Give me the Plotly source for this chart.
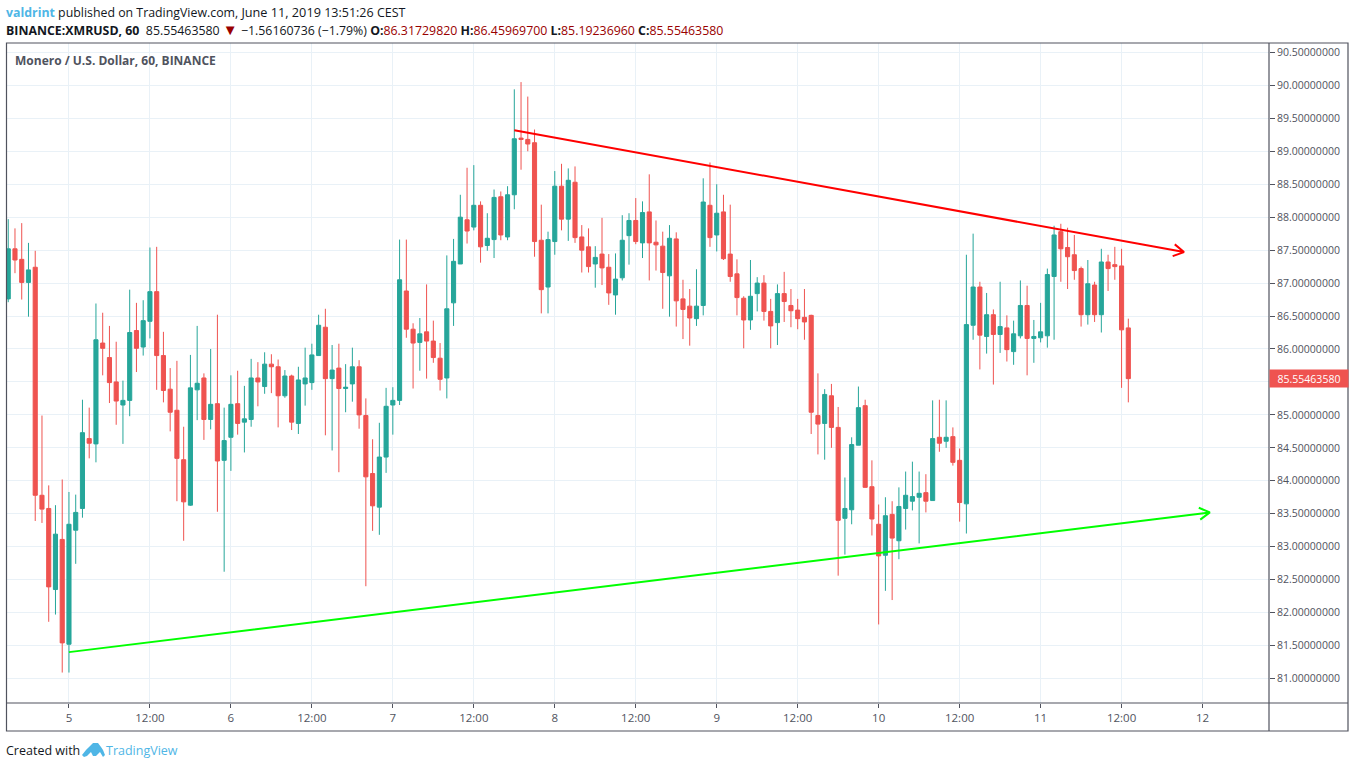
import math
import pandas as pd
import plotly.graph_objects as go

# hourly XMR/USD candles, first one is June 4 15:00
first_candle = "2019-06-04 15:00"

opens = [86.76, 87.52, 87.36, 87.01, 87.24, 83.78, 83.58, 82.35, 83.11, 81.52,
         83.25, 83.58, 84.64, 84.56, 86.09, 85.87, 85.50, 85.15, 85.22, 86.28,
         86.03, 86.42, 86.87, 85.90, 85.39, 85.07, 84.32, 83.63, 85.38, 85.56,
         84.93, 85.17, 84.31, 84.66, 85.17, 84.89, 84.93, 85.56, 85.43, 85.77,
         85.73, 85.29, 85.59, 84.87, 85.47, 85.49, 85.90, 86.33, 85.55, 85.71,
         85.40, 85.47, 85.73, 84.99, 84.11, 83.60, 84.36, 85.15, 85.22, 86.88,
         86.30, 86.10, 86.26, 86.12, 85.86, 85.56, 86.70, 87.29, 87.96, 87.85,
         88.18, 87.57, 87.66, 88.31, 87.70, 88.34, 89.20, 89.18, 89.13, 87.65,
         86.94, 87.63, 88.47, 87.97, 88.53, 87.70, 87.55, 87.29, 87.44, 87.24,
         86.82, 87.08, 87.72, 87.95, 87.61, 88.08, 87.62, 87.56, 87.11, 87.67,
         86.76, 86.65, 86.46, 86.66, 88.18, 87.73, 88.08, 87.44, 87.14, 86.77,
         86.44, 86.84, 87.00, 86.57, 86.40, 86.84, 86.66, 86.59, 86.48, 86.51,
         84.99, 84.87, 85.29, 84.81, 83.43, 83.56, 84.54, 85.14, 83.91, 83.34,
         82.87, 83.49, 83.09, 83.58, 83.69, 83.75, 83.82, 83.70, 84.66, 84.60,
         84.67, 84.31, 83.65, 86.36, 86.94, 86.19, 86.52, 86.22, 86.32, 85.96,
         86.20, 86.66, 86.16, 86.17, 86.20, 87.10, 87.78, 87.54, 87.43, 87.22,
         86.52, 86.97, 86.52, 87.32, 87.28, 87.26, 86.32]
highs = [87.97, 87.83, 87.91, 87.61, 87.49, 84.99, 83.93, 83.63, 84.02, 83.83,
         83.79, 85.23, 85.11, 86.69, 86.55, 86.35, 86.11, 85.52, 86.90, 86.70,
         86.74, 87.54, 87.55, 86.26, 85.71, 85.82, 84.82, 85.91, 86.35, 85.63,
         86.00, 86.52, 85.11, 85.60, 85.67, 85.44, 85.85, 85.80, 85.95, 85.92,
         85.84, 85.68, 85.61, 85.73, 86.02, 86.08, 86.52, 86.61, 86.06, 86.08,
         85.77, 86.02, 85.83, 85.25, 84.63, 84.88, 85.41, 85.42, 87.66, 87.66,
         86.39, 86.47, 86.98, 86.43, 86.09, 87.42, 87.67, 88.34, 88.75, 88.79,
         88.24, 88.06, 88.42, 88.39, 88.47, 89.94, 90.05, 89.83, 89.33, 88.19,
         87.78, 88.70, 88.81, 88.74, 88.77, 87.88, 87.83, 87.56, 87.99, 87.44,
         87.45, 88.03, 88.06, 88.29, 88.24, 88.65, 87.95, 87.78, 87.88, 87.77,
         87.05, 86.91, 87.21, 88.59, 88.83, 88.50, 88.34, 88.19, 87.36, 86.80,
         87.35, 87.09, 87.12, 86.76, 86.98, 87.17, 86.91, 86.76, 86.91, 86.52,
         85.63, 85.39, 85.47, 85.12, 84.05, 84.66, 85.43, 85.23, 84.31, 83.64,
         83.75, 83.69, 83.90, 84.14, 84.29, 84.14, 84.10, 85.22, 85.23, 85.22,
         84.81, 84.49, 87.43, 87.75, 87.02, 86.85, 86.60, 87.02, 86.51, 86.43,
         87.04, 86.96, 86.44, 86.70, 87.22, 87.87, 87.90, 87.84, 87.73, 87.25,
         87.35, 87.02, 87.52, 87.43, 87.55, 87.52, 86.46]
lows = [86.71, 87.15, 86.75, 86.49, 83.39, 83.36, 81.86, 81.97, 81.09, 81.09,
        82.74, 83.44, 84.34, 84.28, 85.60, 85.18, 84.85, 84.56, 84.98, 85.65,
        85.90, 86.16, 85.38, 85.19, 84.75, 83.69, 83.09, 83.62, 84.92, 84.62,
        84.78, 83.53, 82.62, 84.15, 84.70, 84.43, 84.82, 85.13, 85.32, 85.33,
        84.81, 85.26, 84.77, 84.71, 85.14, 85.38, 85.90, 84.69, 84.46, 84.13,
        85.04, 85.20, 84.79, 82.40, 83.24, 83.18, 84.12, 84.70, 85.15, 86.17,
        85.40, 85.67, 85.55, 85.79, 85.37, 85.25, 86.35, 87.29, 87.60, 87.80,
        87.31, 87.49, 87.38, 87.65, 87.65, 88.12, 88.72, 89.00, 87.40, 86.54,
        86.54, 87.43, 87.80, 87.64, 87.61, 87.16, 87.16, 86.93, 86.97, 86.67,
        86.52, 87.04, 87.28, 87.59, 87.38, 87.04, 87.19, 86.61, 86.49, 86.34,
        86.15, 86.05, 86.35, 86.51, 87.55, 87.48, 87.35, 87.02, 86.51, 86.01,
        86.29, 86.57, 86.43, 86.01, 86.06, 86.41, 86.33, 86.30, 86.14, 84.71,
        84.40, 84.32, 84.50, 82.56, 82.88, 83.34, 84.54, 83.90, 83.17, 81.82,
        82.33, 82.19, 82.81, 83.26, 83.55, 83.05, 83.52, 83.70, 84.44, 84.50,
        84.23, 83.38, 83.20, 86.14, 85.69, 85.93, 85.46, 85.94, 85.81, 85.76,
        86.16, 85.60, 85.79, 86.10, 86.02, 86.14, 87.02, 86.91, 87.05, 86.34,
        86.37, 86.41, 86.25, 86.88, 87.05, 85.41, 85.19]
closes = [87.52, 87.35, 87.01, 87.20, 83.78, 83.57, 82.39, 83.19, 81.54, 83.34,
          83.52, 84.73, 84.57, 86.14, 86.01, 85.49, 85.21, 85.22, 86.25, 86.01,
          86.43, 86.87, 85.90, 85.37, 85.04, 84.34, 83.68, 85.41, 85.48, 84.93,
          85.16, 84.30, 84.61, 85.16, 84.87, 84.94, 85.56, 85.50, 85.77, 85.73,
          85.29, 85.59, 84.89, 85.53, 85.56, 85.91, 86.36, 85.55, 85.68, 85.40,
          85.42, 85.73, 85.00, 84.06, 83.62, 84.36, 85.13, 85.22, 87.05, 86.30,
          86.09, 86.23, 86.12, 85.87, 85.54, 86.61, 87.33, 88.00, 87.79, 88.18,
          87.55, 87.68, 88.30, 87.73, 88.34, 89.19, 89.18, 89.11, 87.63, 86.90,
          87.66, 88.47, 87.97, 88.56, 87.69, 87.50, 87.25, 87.39, 87.23, 86.85,
          87.06, 87.65, 87.95, 87.63, 88.07, 87.61, 87.58, 87.16, 87.68, 86.73,
          86.60, 86.47, 86.65, 88.23, 87.69, 88.06, 87.37, 87.10, 86.78, 86.44,
          86.80, 87.00, 86.57, 86.35, 86.84, 86.72, 86.58, 86.46, 86.41, 85.04,
          84.86, 85.31, 84.81, 83.40, 83.58, 84.55, 85.11, 83.90, 83.42, 82.86,
          83.47, 83.13, 83.61, 83.78, 83.76, 83.81, 83.69, 84.64, 84.57, 84.66,
          84.28, 83.67, 86.37, 86.94, 86.21, 86.52, 86.22, 86.34, 85.99, 86.23,
          86.66, 86.16, 86.19, 86.26, 87.13, 87.73, 87.52, 87.40, 87.19, 86.52,
          86.99, 86.52, 87.32, 87.22, 87.25, 86.29, 85.55]

tick_dates = ["2019-06-05 00:00", "2019-06-05 12:00", "2019-06-06 00:00", "2019-06-06 12:00",
              "2019-06-07 00:00", "2019-06-07 12:00", "2019-06-08 00:00", "2019-06-08 12:00",
              "2019-06-09 00:00", "2019-06-09 12:00", "2019-06-10 00:00", "2019-06-10 12:00",
              "2019-06-11 00:00", "2019-06-11 12:00", "2019-06-12 00:00"]
tick_labels = ["5", "12:00", "6", "12:00", "7", "12:00", "8", "12:00",
               "9", "12:00", "10", "12:00", "11", "12:00", "12"]
price_ticks = [81.0, 81.5, 82.0, 82.5, 83.0, 83.5, 84.0, 84.5, 85.0, 85.5,
               86.0, 86.5, 87.0, 87.5, 88.0, 88.5, 89.0, 89.5, 90.0, 90.5]

# trend lines as drawn on the chart
red_dates = ["2019-06-07 18:00", "2019-06-11 21:15"]
red_prices = [89.32, 87.47]
green_dates = ["2019-06-05 00:00", "2019-06-12 01:05"]
green_prices = [81.40, 83.52]

last_price = 85.55463580
x_range = ["2019-06-04 14:49", "2019-06-12 09:51"]
y_range = [80.628, 90.643]

UP = "#26a69a"
DOWN = "#ef5350"
GRID = "#e9f1f7"
FRAME = "#50535e"
BLUE = "#4fb6e6"
TEXT_FONT = "Open Sans"

W, H = 1355, 768
LEFT, RIGHT, TOP, BOTTOM = 7, 1269, 43, 703
PX_PER_HOUR = 6.75
PX_PER_USD = 65.9


def px(x, y):
    # page pixels to paper coordinates
    return (x - LEFT) / (RIGHT - LEFT), (BOTTOM - y) / (BOTTOM - TOP)


def arrow_xy(dates, prices, size=12, spread=0.52):
    # line plus the two strokes of an open arrow head at its end
    t0, t1 = pd.Timestamp(dates[0]), pd.Timestamp(dates[1])
    dx = (t1 - t0) / pd.Timedelta(hours=1) * PX_PER_HOUR
    dy = (prices[1] - prices[0]) * PX_PER_USD
    ang = math.atan2(dy, dx)
    xs, ys = [t0, t1], [prices[0], prices[1]]
    for a in (ang + spread, ang - spread):
        xs += [t1 - pd.Timedelta(hours=size * math.cos(a) / PX_PER_HOUR), t1]
        ys += [prices[1] - size * math.sin(a) / PX_PER_USD, prices[1]]
    return xs, ys


dates = pd.date_range(first_candle, periods=len(opens), freq="h")

fig = go.Figure()
fig.add_trace(go.Candlestick(
    x=dates, open=opens, high=highs, low=lows, close=closes,
    increasing=dict(line=dict(color=UP, width=1), fillcolor=UP),
    decreasing=dict(line=dict(color=DOWN, width=1), fillcolor=DOWN),
    whiskerwidth=0,
))

red_x, red_y = arrow_xy(red_dates, red_prices)
green_x, green_y = arrow_xy(green_dates, green_prices)
fig.add_trace(go.Scatter(x=red_x, y=red_y, mode="lines", line=dict(color="#ff0000", width=2)))
fig.add_trace(go.Scatter(x=green_x, y=green_y, mode="lines", line=dict(color="#00ff00", width=2)))

fig.update_xaxes(
    range=x_range, rangeslider_visible=False,
    tickvals=tick_dates, ticktext=tick_labels,
    showgrid=True, gridcolor=GRID, gridwidth=1, zeroline=False,
    ticks="outside", ticklen=4, tickcolor=FRAME, showline=False,
    tickfont=dict(family=TEXT_FONT, size=11.5, color=FRAME),
)
# 85.50 sits under the last price tag, so it gets no label
fig.update_yaxes(
    range=y_range, side="right", tickvals=price_ticks,
    ticktext=["" if p == 85.5 else f"{p:.8f}" for p in price_ticks],
    showgrid=True, gridcolor=GRID, gridwidth=1, zeroline=False,
    ticks="outside", ticklen=5, tickcolor=FRAME, showline=False,
    tickfont=dict(family=TEXT_FONT, size=10.5, color=FRAME),
)

# chart frame and the TradingView logo
x0, y0 = px(6.5, 43)
x1, y1 = px(1348, 731)
x2, _ = px(1269, 43)
frame_line = dict(color=FRAME, width=1.2)
shapes = [
    dict(type="rect", xref="paper", yref="paper", x0=x0, y0=y0, x1=x1, y1=y1, line=frame_line),
    dict(type="line", xref="paper", yref="paper", x0=x0, y0=0, x1=x1, y1=0, line=frame_line),
    dict(type="line", xref="paper", yref="paper", x0=x2, y0=y0, x1=x2, y1=y1, line=frame_line),
]
logo = [(82, 755), (86, 750), (89, 747), (93, 743), (98, 743), (101, 747), (103, 750), (105, 755),
        (103, 757), (100, 752), (96, 756), (93, 756), (91, 752), (87, 756), (84, 757)]
logo_pts = [px(a, b) for a, b in logo]
shapes.append(dict(
    type="path", xref="paper", yref="paper", line_width=0, fillcolor=BLUE,
    path="M " + " L ".join(f"{a:.5f},{b:.5f}" for a, b in logo_pts) + " Z",
))


def label(x, y, text, size=12.5, color="#131722", **kw):
    ax, ay = px(x, y)
    return dict(xref="paper", yref="paper", x=ax, y=ay, text=text, showarrow=False,
                xanchor="left", yanchor="middle", align="left",
                font=dict(family=TEXT_FONT, size=size, color=color), **kw)


ohlc_red = "#990000"
# font hinting jumps between sizes, mixed sizes get the line close to its real width
header1 = (
    f"<span style='color:{BLUE}'><b>valdrint</b></span> published on TradingView.com, "
    "<span style='font-size:12.7px'>June 11, 2019 </span>"
    "<span style='font-size:12.5px'>13:51:26 CEST</span>"
)
header2 = (
    "<b>BINANCE:XMRUSD, 60</b>  85.55463580 "
    f"<span style='color:{ohlc_red};font-size:15px'>▼</span> −1.56160736 (−1.79%) "
    f"<b>O:</b><span style='color:{ohlc_red}'>86.31729820</span> "
    f"<b>H:</b><span style='color:{ohlc_red}'>86.45969700</span> "
    f"<b>L:</b><span style='color:{ohlc_red}'>85.19236960</span> "
    f"<b>C:</b><span style='color:{ohlc_red}'>85.55463580</span>"
)
annotations = [
    label(4, 12, header1, size=12.35),
    label(4, 29, header2, size=12.35),
    label(13, 60, "<b>Monero / U.S. Dollar, 60, BINANCE</b>", size=12, color=FRAME),
    label(4, 750, "Created with"),
    label(104, 750, "TradingView", color=BLUE),
    dict(xref="paper", yref="y", x=x2, y=last_price, text=f"{last_price:.8f}", showarrow=False,
         xanchor="left", yanchor="middle", width=76, height=15, bgcolor=DOWN,
         font=dict(family=TEXT_FONT, size=10.5, color="#ffffff")),
]

fig.update_layout(
    width=W, height=H, showlegend=False,
    paper_bgcolor="#ffffff", plot_bgcolor="#ffffff",
    margin=dict(l=LEFT, r=W - RIGHT, t=TOP, b=H - BOTTOM, autoexpand=False),
    boxgap=0.13, boxgroupgap=0.3,  # wider candle bodies
    shapes=shapes, annotations=annotations,
)

# the browser's default body margin would push the whole chart by 8px
fig.write_html("out.html", config={"displayModeBar": False},
               post_script="document.body.style.margin = '0';")
